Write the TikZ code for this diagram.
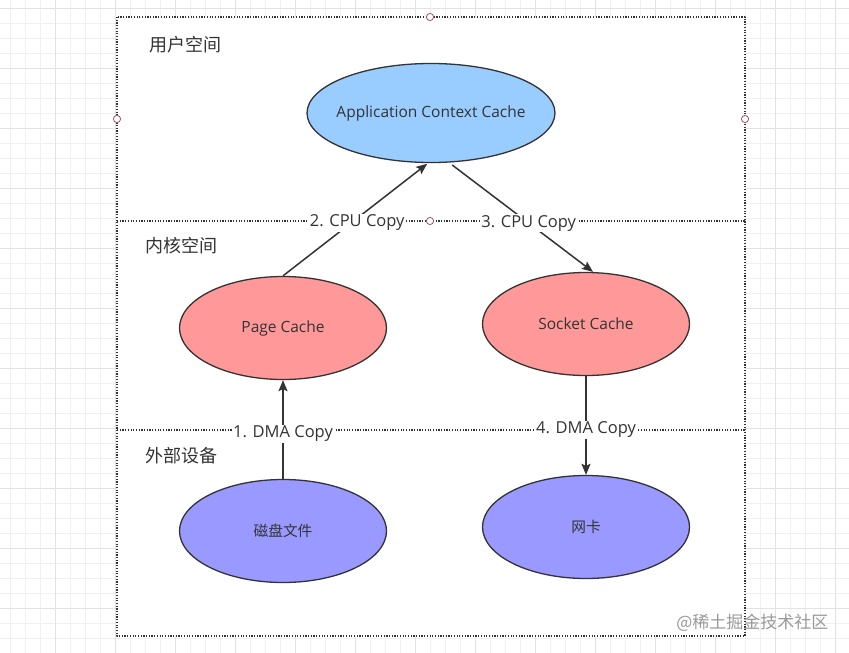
\documentclass[tikz,border=0pt]{standalone}
\usepackage{fontspec}
\setmainfont{Open Sans}
\newfontfamily\cjk{Noto Sans CJK SC}
\usetikzlibrary{arrows.meta,shapes.geometric}
\definecolor{appblue}{HTML}{99CCFF}
\definecolor{cachered}{HTML}{FF9999}
\definecolor{devblue}{HTML}{9999FF}
\definecolor{ink}{HTML}{333333}
\definecolor{gridlo}{HTML}{F0F0F0}
\definecolor{gridhi}{HTML}{E2E2E2}
\definecolor{handle}{HTML}{A0506A}
\tikzset{
  blob/.style={ellipse,draw=ink,line width=1.3pt,minimum width=207,minimum height=103,
    text=ink,font=\fontsize{15.5}{18}\selectfont},
  flow/.style={draw=ink,line width=1.5pt,-{Stealth[length=11pt,width=9pt,inset=2pt]}},
  copylbl/.style={fill=white,inner sep=1pt,text=ink,font=\fontsize{16.5}{19}\selectfont},
  zone/.style={text=ink,font=\cjk\fontsize{18}{21}\selectfont},
  divider/.style={line width=1.2pt,dash pattern=on 1.2pt off 1.5pt,draw=ink},
  grip/.style={draw=handle,fill=white,line width=0.8pt}
}
\begin{document}
\begin{tikzpicture}[x=1pt,y=-1pt,line cap=butt,line join=round]
  \useasboundingbox (0,0) rectangle (849,653);
  \fill[white] (0,0) rectangle (849,653);
  % background grid
  \foreach \x in {10,25,...,849} {\draw[gridlo,line width=0.8pt] (\x,0) -- (\x,653);}
  \foreach \y in {8,23,...,653} {\draw[gridlo,line width=0.8pt] (0,\y) -- (849,\y);}
  \foreach \x in {55,115,...,849} {\draw[gridhi,line width=0.8pt] (\x,0) -- (\x,653);}
  \foreach \y in {8,68,...,653} {\draw[gridhi,line width=0.8pt] (0,\y) -- (849,\y);}
  % frame and layers
  \fill[white] (117,17) rectangle (745,636);
  \draw[divider,line width=1.6pt] (117,17) rectangle (745,636);
  \draw[divider] (117,221) -- (745,221);
  \draw[divider] (117,430) -- (745,430);
  \node[zone] (user) at (185,45) {用户空间};
  \node[zone] (kernel) at (181,246) {内核空间};
  \node[zone] (device) at (181,456) {外部设备};
  % caches and devices
  \node[blob,fill=appblue,minimum width=248,minimum height=99] (app) at (431,113) {\makebox[0pt]{Application Context Cache}};
  \node[blob,fill=cachered] (page) at (283,328) {Page Cache};
  \node[blob,fill=cachered] (socket) at (586,324) {Socket Cache};
  \node[blob,fill=devblue,font=\cjk\fontsize{14.7}{18}\selectfont] (disk) at (283,531) {磁盘文件};
  \node[blob,fill=devblue,font=\cjk\fontsize{14.7}{18}\selectfont] (nic) at (586,527) {网卡};
  % copies
  \draw[flow,shorten >=1pt] (page.north) -- ([xshift=-3pt]app.south) node[copylbl,pos=0.47,xshift=6pt] (c2) {2. CPU Copy};
  \draw[flow,shorten <=4pt] (app.-70) -- ([xshift=7pt]socket.north) node[copylbl,pos=0.553] (c3) {3. CPU Copy};
  \draw[flow] (disk.north) -- (page.south) node[copylbl,pos=0.455] (c1) {1. DMA Copy};
  \draw[flow] (socket.south) -- (nic.north) node[copylbl,pos=0.545] (c4) {4. DMA Copy};
  % selection handles
  \foreach \p in {(430,17),(117,119),(745,119),(430,221)} {\draw[grip] \p circle (3.6);}
  \node[text=black!40,font=\cjk\fontsize{17}{20}\selectfont,anchor=east] (mark) at (832,623) {@稀土掘金技术社区};
\end{tikzpicture}
\end{document}
